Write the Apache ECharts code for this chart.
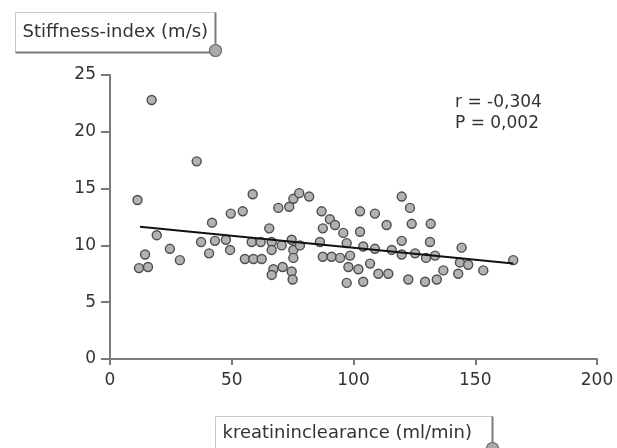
<!DOCTYPE html>
<html>
<head>
<meta charset="utf-8">
<script src="https://cdn.jsdelivr.net/npm/echarts@6/dist/echarts.min.js"></script>
<style>
  html, body { margin: 0; padding: 0; background: #fff; }
  #chart { width: 617px; height: 448px; }
</style>
</head>
<body>
<div id="chart"></div>
<script>
// Creatinine clearance (ml/min) vs. stiffness index (m/s)
const clearance = [
  17.1, 35.6, 11.3, 19.2, 24.6, 28.7, 37.4, 41.9, 43.1, 40.7,
  14.4, 11.9, 15.6, 58.6, 49.6, 54.5, 69.1, 73.6, 75.3, 77.7,
  81.8, 65.4, 47.6, 49.3, 58.2, 61.9, 66.4, 66.4, 70.5, 74.6,
  75.3, 55.4, 58.9, 62.3, 75.3, 67.1, 70.9, 74.6, 66.4, 75.0,
  86.9, 90.3, 92.4, 87.4, 95.8, 102.7, 108.8, 119.8, 123.2, 123.9,
  131.7, 113.6, 102.7, 131.4, 119.8, 78.0, 86.2, 87.4, 91.0, 94.5,
  97.2, 98.6, 104.0, 108.8, 115.7, 119.8, 125.3, 129.8, 133.5, 144.4,
  143.7, 147.1, 136.9, 143.0, 153.3, 165.6, 97.9, 102.0, 106.8, 110.2,
  114.3, 97.2, 104.0, 122.5, 129.4, 134.2
];
const stiffness = [
  22.8, 17.4, 14.0, 10.9, 9.7, 8.7, 10.3, 12.0, 10.4, 9.3,
  9.2, 8.0, 8.1, 14.5, 12.8, 13.0, 13.3, 13.4, 14.1, 14.6,
  14.3, 11.5, 10.5, 9.6, 10.3, 10.3, 10.3, 9.6, 10.0, 10.5,
  9.6, 8.8, 8.8, 8.8, 8.9, 7.9, 8.1, 7.7, 7.4, 7.0,
  13.0, 12.3, 11.8, 11.5, 11.1, 13.0, 12.8, 14.3, 13.3, 11.9,
  11.9, 11.8, 11.2, 10.3, 10.4, 10.0, 10.3, 9.0, 9.0, 8.9,
  10.2, 9.1, 9.9, 9.7, 9.6, 9.2, 9.3, 8.9, 9.1, 9.8,
  8.5, 8.3, 7.8, 7.5, 7.8, 8.7, 8.1, 7.9, 8.4, 7.5,
  7.5, 6.7, 6.8, 7.0, 6.8, 7.0
];
// Least-squares fit line, drawn between its end points
const fitX = [12.3, 165.6];
const fitY = [11.65, 8.4];
const xTicks = [0, 50, 100, 150, 200];
const yTicks = [0, 5, 10, 15, 20, 25];
const statLines = ['r = -0,304', 'P = 0,002'];
const yTitle = 'Stiffness-index (m/s)';
const xTitle = 'kreatininclearance (ml/min)';

const FONT = '"DejaVu Sans", sans-serif';
const TXT = '#333';

const points = clearance.map((x, i) => [x, stiffness[i]]);
const fit = fitX.map((x, i) => [x, fitY[i]]);

function labelBox(x, y, w, h, text) {
  return {
    type: 'group', left: x, top: y,
    children: [
      { type: 'rect', shape: { x: 0, y: 0, width: w, height: h },
        style: { fill: '#fff', stroke: '#c8c8c8', lineWidth: 1 } },
      { type: 'line', shape: { x1: w, y1: 0, x2: w, y2: h },
        style: { stroke: '#7a7a7a', lineWidth: 2 } },
      { type: 'line', shape: { x1: 0, y1: h, x2: w, y2: h },
        style: { stroke: '#7a7a7a', lineWidth: 2 } },
      { type: 'text', x: 7, y: h / 2,
        style: { text: text, font: '18px ' + FONT, fill: TXT, textVerticalAlign: 'middle' } },
      { type: 'circle', shape: { cx: w, cy: h - 2, r: 6 },
        style: { fill: '#a9a9a9', stroke: '#6a6a6a', lineWidth: 1.2 } }
    ]
  };
}

const chart = echarts.init(document.getElementById('chart'), null, { renderer: 'canvas' });
chart.setOption({
  animation: false,
  backgroundColor: '#fff',
  grid: { left: 110, right: 20, top: 75, bottom: 89, containLabel: false },
  xAxis: {
    type: 'value', min: xTicks[0], max: xTicks[xTicks.length - 1], interval: 50,
    axisLine: { show: true, onZero: false, lineStyle: { color: '#7a7a7a', width: 2 } },
    axisTick: { show: true, length: 6, lineStyle: { color: '#7a7a7a', width: 2 } },
    axisLabel: { fontFamily: FONT, fontSize: 17, color: TXT, margin: 13 },
    splitLine: { show: false }
  },
  yAxis: {
    type: 'value', min: yTicks[0], max: yTicks[yTicks.length - 1], interval: 5,
    axisLine: { show: true, onZero: false, lineStyle: { color: '#7a7a7a', width: 2 } },
    axisTick: { show: true, length: 9, lineStyle: { color: '#7a7a7a', width: 2 } },
    axisLabel: { fontFamily: FONT, fontSize: 17, color: TXT, margin: 14 },
    splitLine: { show: false }
  },
  series: [
    {
      type: 'scatter', data: points, symbol: 'circle', symbolSize: 9,
      itemStyle: { color: '#b2b2b2', borderColor: '#4e4e4e', borderWidth: 1.4, opacity: 1 },
      z: 2
    },
    {
      type: 'line', data: fit, symbol: 'none',
      lineStyle: { color: '#111', width: 2 }, z: 3
    }
  ],
  graphic: [
    labelBox(13, 10, 200, 40, yTitle),
    labelBox(213, 414, 277, 34, xTitle),
    { type: 'text', left: 455, top: 92,
      style: { text: statLines.join('\n'), font: '17px ' + FONT, fill: TXT, lineHeight: 21 } }
  ]
});
</script>
</body>
</html>
